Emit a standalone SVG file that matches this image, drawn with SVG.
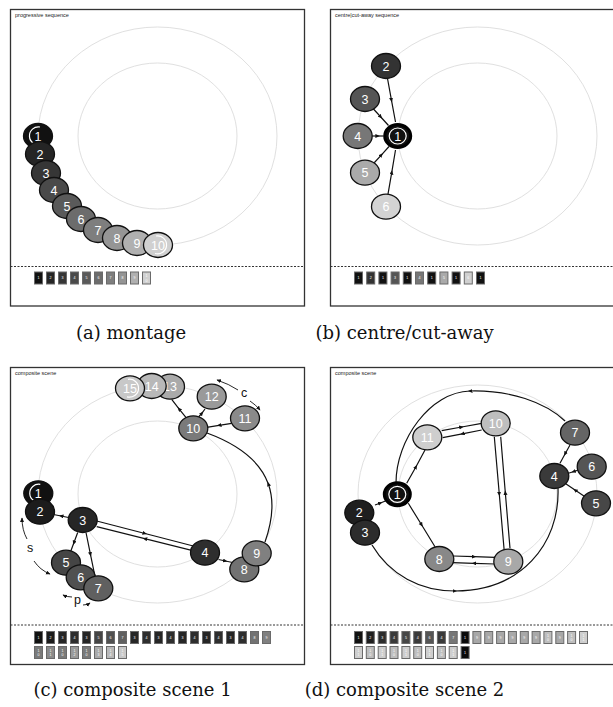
<svg xmlns="http://www.w3.org/2000/svg" width="613" height="707" viewBox="0 0 613 707">
<style>
  .frame{fill:#fff;stroke:#333;stroke-width:1.3}
  .guide{fill:none;stroke:#e0e0e0;stroke-width:1}
  .tl{stroke:#333;stroke-width:1;stroke-dasharray:2 1.5}
  .title{font-family:"Liberation Sans",Arial,sans-serif;font-size:5.5px;fill:#222}
  .node ellipse{stroke:#111;stroke-width:1.3}
  .node text{fill:#fff;font-family:"Liberation Sans",Arial,sans-serif;font-size:12.5px;text-anchor:middle}
  .node ellipse.o{stroke:#000;stroke-width:3}
  .node .ring{fill:none;stroke:#fff;stroke-width:1.2}
  .edge{fill:none;stroke:#111;stroke-width:1.2;marker-mid:url(#mid)}
  .ann{fill:none;stroke:#111;stroke-width:0.9}
  .annt{font-family:"Liberation Sans",Arial,sans-serif;font-size:12.5px;fill:#111;text-anchor:middle}
  .slot rect{stroke:#6a6a6a;stroke-width:1}
  .slot text{fill:#fff;font-family:"Liberation Sans",Arial,sans-serif;font-size:3.6px;text-anchor:middle}
  .cap{font-family:"DejaVu Serif",serif;font-size:18px;fill:#111;text-anchor:middle}
</style>
<defs>
  <marker id="mid" markerUnits="userSpaceOnUse" markerWidth="5" markerHeight="5" refX="2.5" refY="2" orient="auto">
    <path d="M0,0 L4.5,2 L0,4 z" fill="#111"/>
  </marker>
  <marker id="tip" markerUnits="userSpaceOnUse" markerWidth="5" markerHeight="5" refX="4" refY="2" orient="auto-start-reverse">
    <path d="M0,0 L4.5,2 L0,4 z" fill="#111"/>
  </marker>
</defs>

<!-- ============ (a) montage ============ -->
<g id="panel-a">
  <rect class="frame" x="10.5" y="9.5" width="294" height="296.5"/>
  <text class="title" x="15" y="17">progressive sequence</text>
  <ellipse class="guide" cx="157.5" cy="136" rx="119.5" ry="109"/>
  <ellipse class="guide" cx="157.5" cy="136" rx="79.5" ry="73"/>
  <line class="tl" x1="10.5" y1="266.5" x2="304.5" y2="266.5"/>
  <g class="slot">
    <rect x="34.5" y="272" width="8" height="12" fill="#111"/><text x="38.5" y="279.3">1</text>
    <rect x="46.5" y="272" width="8" height="12" fill="#252525"/><text x="50.5" y="279.3">2</text>
    <rect x="58.5" y="272" width="8" height="12" fill="#363636"/><text x="62.5" y="279.3">3</text>
    <rect x="70.5" y="272" width="8" height="12" fill="#4a4a4a"/><text x="74.5" y="279.3">4</text>
    <rect x="82.5" y="272" width="8" height="12" fill="#5a5a5a"/><text x="86.5" y="279.3">5</text>
    <rect x="94.5" y="272" width="8" height="12" fill="#6c6c6c"/><text x="98.5" y="279.3">6</text>
    <rect x="106.5" y="272" width="8" height="12" fill="#7e7e7e"/><text x="110.5" y="279.3">7</text>
    <rect x="118.5" y="272" width="8" height="12" fill="#959595"/><text x="122.5" y="279.3">8</text>
    <rect x="130.5" y="272" width="8" height="12" fill="#b0b0b0"/><text x="134.5" y="279.3">9</text>
    <rect x="142.5" y="272" width="8" height="12" fill="#d0d0d0"/><text x="146.5" y="277.3">1</text><text x="146.5" y="281.5">0</text>
  </g>
  <g id="a-n1" class="node"><ellipse cx="38" cy="136" rx="14.5" ry="12.5" fill="#111"/><path class="ring" d="M40,127 A9 9 0 1 0 41,144.5"/><text x="38" y="140.5">1</text></g>
  <g id="a-n2" class="node"><ellipse cx="40" cy="154" rx="14.5" ry="12.5" fill="#252525"/><text x="40" y="158.5">2</text></g>
  <g id="a-n3" class="node"><ellipse cx="46" cy="173" rx="14.5" ry="12.5" fill="#363636"/><text x="46" y="177.5">3</text></g>
  <g id="a-n4" class="node"><ellipse cx="54" cy="190" rx="14.5" ry="12.5" fill="#4a4a4a"/><text x="54" y="194.5">4</text></g>
  <g id="a-n5" class="node"><ellipse cx="67" cy="206" rx="14.5" ry="12.5" fill="#5a5a5a"/><text x="67" y="210.5">5</text></g>
  <g id="a-n6" class="node"><ellipse cx="81" cy="219" rx="14.5" ry="12.5" fill="#6c6c6c"/><text x="81" y="223.5">6</text></g>
  <g id="a-n7" class="node"><ellipse cx="98" cy="230" rx="14.5" ry="12.5" fill="#7e7e7e"/><text x="98" y="234.5">7</text></g>
  <g id="a-n8" class="node"><ellipse cx="117" cy="238" rx="14.5" ry="12.5" fill="#959595"/><text x="117" y="242.5">8</text></g>
  <g id="a-n9" class="node"><ellipse cx="137" cy="243" rx="14.5" ry="12.5" fill="#b0b0b0"/><text x="137" y="247.5">9</text></g>
  <g id="a-n10" class="node"><ellipse cx="158" cy="245" rx="14.5" ry="12.5" fill="#d0d0d0"/><path class="ring" d="M156,236 A9 9 0 1 1 155,253.5"/><text x="158" y="249.5">10</text></g>
</g>

<!-- ============ (b) centre/cut-away ============ -->
<g id="panel-b">
  <rect class="frame" x="330.5" y="9.5" width="300" height="296.5"/>
  <text class="title" x="335" y="17">centre|cut-away sequence</text>
  <ellipse class="guide" cx="477.5" cy="136" rx="119.5" ry="109"/>
  <ellipse class="guide" cx="477.5" cy="136" rx="79.5" ry="73"/>
  <line class="tl" x1="330.5" y1="266.5" x2="613" y2="266.5"/>
  <g class="slot">
    <rect x="354.5" y="272" width="8" height="12" fill="#111"/><text x="358.5" y="279.3">1</text>
    <rect x="366.7" y="272" width="8" height="12" fill="#333"/><text x="370.7" y="279.3">2</text>
    <rect x="378.9" y="272" width="8" height="12" fill="#111"/><text x="382.9" y="279.3">1</text>
    <rect x="391.1" y="272" width="8" height="12" fill="#555"/><text x="395.1" y="279.3">3</text>
    <rect x="403.3" y="272" width="8" height="12" fill="#111"/><text x="407.3" y="279.3">1</text>
    <rect x="415.5" y="272" width="8" height="12" fill="#777"/><text x="419.5" y="279.3">4</text>
    <rect x="427.7" y="272" width="8" height="12" fill="#111"/><text x="431.7" y="279.3">1</text>
    <rect x="439.9" y="272" width="8" height="12" fill="#aaa"/><text x="443.9" y="279.3">5</text>
    <rect x="452.1" y="272" width="8" height="12" fill="#111"/><text x="456.1" y="279.3">1</text>
    <rect x="464.3" y="272" width="8" height="12" fill="#d0d0d0"/><text x="468.3" y="279.3">6</text>
    <rect x="476.5" y="272" width="8" height="12" fill="#111"/><text x="480.5" y="279.3">1</text>
  </g>
  <g id="b-edges">
    <polyline class="edge" points="387.5,78.5 391.5,100.3 395.5,122"/>
    <polyline class="edge" points="373,108.5 380.8,117 388.5,125.5"/>
    <polyline class="edge" points="372.2,136 377.9,136 383.5,136"/>
    <polyline class="edge" points="374,163 381.5,154.8 389,146.5"/>
    <polyline class="edge" points="388,194.2 391.8,172.1 395.5,150"/>
  </g>
  <g id="b-n2" class="node"><ellipse cx="386" cy="66" rx="14.5" ry="12.5" fill="#333"/><text x="386" y="70.5">2</text></g>
  <g id="b-n3" class="node"><ellipse cx="365" cy="99" rx="14.5" ry="12.5" fill="#555"/><text x="365" y="103.5">3</text></g>
  <g id="b-n4" class="node"><ellipse cx="357.7" cy="136" rx="14.5" ry="12.5" fill="#777"/><text x="357.7" y="140.5">4</text></g>
  <g id="b-n5" class="node"><ellipse cx="365" cy="172.7" rx="14.5" ry="12.5" fill="#aaa"/><text x="365" y="177.2">5</text></g>
  <g id="b-n6" class="node"><ellipse cx="386" cy="206.7" rx="14.5" ry="12.5" fill="#d3d3d3"/><text x="386" y="211.2">6</text></g>
  <g id="b-n1" class="node"><ellipse class="o" cx="397.7" cy="136" rx="13" ry="11.5" fill="#111"/><ellipse class="ring" cx="397.7" cy="136" rx="8.5" ry="8"/><text x="397.7" y="140.5">1</text></g>
</g>

<!-- ============ (c) composite scene 1 ============ -->
<g id="panel-c">
  <rect class="frame" x="10.5" y="367.5" width="294" height="297"/>
  <text class="title" x="15" y="375">composite scene</text>
  <ellipse class="guide" cx="157.5" cy="494" rx="119.5" ry="109"/>
  <ellipse class="guide" cx="157.5" cy="494" rx="79.5" ry="73"/>
  <line class="tl" x1="10.5" y1="625" x2="304.5" y2="625"/>
  <g class="slot">
    <rect x="34.5" y="631.5" width="8" height="12" fill="#111"/><text x="38.5" y="638.8">1</text>
    <rect x="46.5" y="631.5" width="8" height="12" fill="#1c1c1c"/><text x="50.5" y="638.8">2</text>
    <rect x="58.5" y="631.5" width="8" height="12" fill="#262626"/><text x="62.5" y="638.8">3</text>
    <rect x="70.5" y="631.5" width="8" height="12" fill="#2e2e2e"/><text x="74.5" y="638.8">4</text>
    <rect x="82.5" y="631.5" width="8" height="12" fill="#262626"/><text x="86.5" y="638.8">3</text>
    <rect x="94.5" y="631.5" width="8" height="12" fill="#454545"/><text x="98.5" y="638.8">5</text>
    <rect x="106.5" y="631.5" width="8" height="12" fill="#505050"/><text x="110.5" y="638.8">6</text>
    <rect x="118.5" y="631.5" width="8" height="12" fill="#606060"/><text x="122.5" y="638.8">7</text>
    <rect x="130.5" y="631.5" width="8" height="12" fill="#262626"/><text x="134.5" y="638.8">3</text>
    <rect x="142.5" y="631.5" width="8" height="12" fill="#2e2e2e"/><text x="146.5" y="638.8">4</text>
    <rect x="154.5" y="631.5" width="8" height="12" fill="#262626"/><text x="158.5" y="638.8">3</text>
    <rect x="166.5" y="631.5" width="8" height="12" fill="#2e2e2e"/><text x="170.5" y="638.8">4</text>
    <rect x="178.5" y="631.5" width="8" height="12" fill="#262626"/><text x="182.5" y="638.8">3</text>
    <rect x="190.5" y="631.5" width="8" height="12" fill="#2e2e2e"/><text x="194.5" y="638.8">4</text>
    <rect x="202.5" y="631.5" width="8" height="12" fill="#262626"/><text x="206.5" y="638.8">3</text>
    <rect x="214.5" y="631.5" width="8" height="12" fill="#2e2e2e"/><text x="218.5" y="638.8">4</text>
    <rect x="226.5" y="631.5" width="8" height="12" fill="#262626"/><text x="230.5" y="638.8">3</text>
    <rect x="238.5" y="631.5" width="8" height="12" fill="#2e2e2e"/><text x="242.5" y="638.8">4</text>
    <rect x="250.5" y="631.5" width="8" height="12" fill="#727272"/><text x="254.5" y="638.8">8</text>
    <rect x="262.5" y="631.5" width="8" height="12" fill="#808080"/><text x="266.5" y="638.8">9</text>
    <rect x="34.5" y="646.5" width="8" height="12" fill="#7a7a7a"/><text x="38.5" y="651.8">1</text><text x="38.5" y="656">0</text>
    <rect x="46.5" y="646.5" width="8" height="12" fill="#8a8a8a"/><text x="50.5" y="651.8">1</text><text x="50.5" y="656">1</text>
    <rect x="58.5" y="646.5" width="8" height="12" fill="#7a7a7a"/><text x="62.5" y="651.8">1</text><text x="62.5" y="656">0</text>
    <rect x="70.5" y="646.5" width="8" height="12" fill="#9a9a9a"/><text x="74.5" y="651.8">1</text><text x="74.5" y="656">2</text>
    <rect x="82.5" y="646.5" width="8" height="12" fill="#7a7a7a"/><text x="86.5" y="651.8">1</text><text x="86.5" y="656">0</text>
    <rect x="94.5" y="646.5" width="8" height="12" fill="#aaaaaa"/><text x="98.5" y="651.8">1</text><text x="98.5" y="656">3</text>
    <rect x="106.5" y="646.5" width="8" height="12" fill="#b8b8b8"/><text x="110.5" y="651.8">1</text><text x="110.5" y="656">4</text>
    <rect x="118.5" y="646.5" width="8" height="12" fill="#c8c8c8"/><text x="122.5" y="651.8">1</text><text x="122.5" y="656">5</text>
  </g>
  <g id="c-edges">
    <polyline class="edge" points="68.5,517.5 61,516 53.5,514.5"/>
    <polyline class="edge" points="96.7,521 145,533.5 193.3,546"/>
    <polyline class="edge" points="192.7,550.7 144.7,538.7 96.7,526.7"/>
    <polyline class="edge" points="77.7,532.5 73.8,543 70,553.3"/>
    <polyline class="edge" points="86,532.5 90.5,554.6 95,576.5"/>
    <polyline class="edge" points="218.5,559.5 225.5,561 232.5,562.5"/>
    <polyline class="edge" points="186.7,418.3 179,408.8 171.7,399.3"/>
    <polyline class="edge" points="199,416.5 202,413 205,409"/>
    <polyline class="edge" points="231.7,423.3 219,425.3 206.7,427.3"/>
    <path class="edge" d="M265,542 C271.5,523.5 275.25,503 268.25,483.75 C261.25,464.5 243.5,446.5 207,433"/>
  </g>
  <g id="c-notes">
    <path class="ann" d="M22,518 Q22,530 27,539" marker-start="url(#tip)"/>
    <path class="ann" d="M34,561 Q40,570 50,574" marker-end="url(#tip)"/>
    <text class="annt" x="30" y="552">s</text>
    <path class="ann" d="M63,595 Q67,597 72,597" marker-start="url(#tip)"/>
    <path class="ann" d="M83,605 Q87,605 90,603" marker-end="url(#tip)"/>
    <text class="annt" x="77.5" y="603.5">p</text>
    <path class="ann" d="M217,380 Q229,384 238,390" marker-start="url(#tip)"/>
    <path class="ann" d="M250,401 Q256,405 260,410" marker-end="url(#tip)"/>
    <text class="annt" x="244" y="397">c</text>
  </g>
  <g id="c-n1" class="node"><ellipse cx="38.3" cy="493.3" rx="14.5" ry="12.5" fill="#111"/><path class="ring" d="M40.3,484.3 A9 9 0 1 0 41.3,501.8"/><text x="38.3" y="497.8">1</text></g>
  <g id="c-n2" class="node"><ellipse cx="40" cy="511.7" rx="14.5" ry="12.5" fill="#1c1c1c"/><text x="40" y="516.2">2</text></g>
  <g id="c-n3" class="node"><ellipse cx="82.7" cy="520" rx="14.5" ry="12.5" fill="#262626"/><text x="82.7" y="524.5">3</text></g>
  <g id="c-n4" class="node"><ellipse cx="205" cy="552.7" rx="14.5" ry="12.5" fill="#2e2e2e"/><text x="205" y="557.2">4</text></g>
  <g id="c-n5" class="node"><ellipse cx="66" cy="562.7" rx="14.5" ry="12.5" fill="#454545"/><text x="66" y="567.2">5</text></g>
  <g id="c-n6" class="node"><ellipse cx="80.7" cy="577.3" rx="14.5" ry="12.5" fill="#505050"/><text x="80.7" y="581.8">6</text></g>
  <g id="c-n7" class="node"><ellipse cx="98.3" cy="588.3" rx="14.5" ry="12.5" fill="#606060"/><text x="98.3" y="592.8">7</text></g>
  <g id="c-n8" class="node"><ellipse cx="244.3" cy="569.3" rx="14.5" ry="12.5" fill="#727272"/><text x="244.3" y="573.8">8</text></g>
  <g id="c-n9" class="node"><ellipse cx="256.7" cy="553.3" rx="14.5" ry="12.5" fill="#808080"/><text x="256.7" y="557.8">9</text></g>
  <g id="c-n10" class="node"><ellipse cx="193.3" cy="428.3" rx="14.5" ry="12.5" fill="#7a7a7a"/><text x="193.3" y="432.8">10</text></g>
  <g id="c-n11" class="node"><ellipse cx="245" cy="418.3" rx="14.5" ry="12.5" fill="#8a8a8a"/><text x="245" y="422.8">11</text></g>
  <g id="c-n12" class="node"><ellipse cx="211.7" cy="396.7" rx="14.5" ry="12.5" fill="#9a9a9a"/><text x="211.7" y="401.2">12</text></g>
  <g id="c-n13" class="node"><ellipse cx="170" cy="386.7" rx="14.5" ry="12.5" fill="#aaaaaa"/><text x="170" y="391.2">13</text></g>
  <g id="c-n14" class="node"><ellipse cx="151.7" cy="386" rx="14.5" ry="12.5" fill="#b8b8b8"/><text x="151.7" y="390.5">14</text></g>
  <g id="c-n15" class="node"><ellipse cx="130" cy="388.3" rx="14.5" ry="12.5" fill="#c8c8c8"/><path class="ring" d="M128,379.3 A9 9 0 1 1 127,396.8"/><text x="130" y="392.8">15</text></g>
</g>

<!-- ============ (d) composite scene 2 ============ -->
<g id="panel-d">
  <rect class="frame" x="330.5" y="367.5" width="300" height="297"/>
  <text class="title" x="335" y="375">composite scene</text>
  <ellipse class="guide" cx="477.5" cy="494" rx="119.5" ry="109"/>
  <ellipse class="guide" cx="477.5" cy="494" rx="79.5" ry="73"/>
  <line class="tl" x1="330.5" y1="625" x2="613" y2="625"/>
  <g class="slot">
    <rect x="354.5" y="631.5" width="8" height="12" fill="#111"/><text x="358.5" y="638.8">1</text>
    <rect x="366.3" y="631.5" width="8" height="12" fill="#1f1f1f"/><text x="370.3" y="638.8">2</text>
    <rect x="378.2" y="631.5" width="8" height="12" fill="#2c2c2c"/><text x="382.2" y="638.8">3</text>
    <rect x="390" y="631.5" width="8" height="12" fill="#3a3a3a"/><text x="394" y="638.8">4</text>
    <rect x="401.9" y="631.5" width="8" height="12" fill="#474747"/><text x="405.9" y="638.8">5</text>
    <rect x="413.7" y="631.5" width="8" height="12" fill="#3a3a3a"/><text x="417.7" y="638.8">4</text>
    <rect x="425.5" y="631.5" width="8" height="12" fill="#555"/><text x="429.5" y="638.8">6</text>
    <rect x="437.4" y="631.5" width="8" height="12" fill="#3a3a3a"/><text x="441.4" y="638.8">4</text>
    <rect x="449.2" y="631.5" width="8" height="12" fill="#777"/><text x="453.2" y="638.8">7</text>
    <rect x="461.1" y="631.5" width="8" height="12" fill="#0a0a0a"/><text x="465.1" y="638.8">1</text>
    <rect x="472.9" y="631.5" width="8" height="12" fill="#a8a8a8"/><text x="476.9" y="638.8">9</text>
    <rect x="484.7" y="631.5" width="8" height="12" fill="#a8a8a8"/><text x="488.7" y="638.8">9</text>
    <rect x="496.6" y="631.5" width="8" height="12" fill="#a8a8a8"/><text x="500.6" y="638.8">9</text>
    <rect x="508.4" y="631.5" width="8" height="12" fill="#a8a8a8"/><text x="512.4" y="638.8">9</text>
    <rect x="520.3" y="631.5" width="8" height="12" fill="#a8a8a8"/><text x="524.3" y="638.8">9</text>
    <rect x="532.1" y="631.5" width="8" height="12" fill="#a8a8a8"/><text x="536.1" y="638.8">9</text>
    <rect x="543.9" y="631.5" width="8" height="12" fill="#bebebe"/><text x="547.9" y="636.8">1</text><text x="547.9" y="641">0</text>
    <rect x="555.8" y="631.5" width="8" height="12" fill="#a8a8a8"/><text x="559.8" y="638.8">9</text>
    <rect x="567.6" y="631.5" width="8" height="12" fill="#bebebe"/><text x="571.6" y="636.8">1</text><text x="571.6" y="641">0</text>
    <rect x="579.5" y="631.5" width="8" height="12" fill="#cecece"/><text x="583.5" y="636.8">1</text><text x="583.5" y="641">1</text>
    <rect x="354.5" y="646.5" width="8" height="12" fill="#cecece"/><text x="358.5" y="651.8">1</text><text x="358.5" y="656">1</text>
    <rect x="366.3" y="646.5" width="8" height="12" fill="#bebebe"/><text x="370.3" y="651.8">1</text><text x="370.3" y="656">0</text>
    <rect x="378.2" y="646.5" width="8" height="12" fill="#cecece"/><text x="382.2" y="651.8">1</text><text x="382.2" y="656">1</text>
    <rect x="390" y="646.5" width="8" height="12" fill="#bebebe"/><text x="394" y="651.8">1</text><text x="394" y="656">0</text>
    <rect x="401.9" y="646.5" width="8" height="12" fill="#cecece"/><text x="405.9" y="651.8">1</text><text x="405.9" y="656">1</text>
    <rect x="413.7" y="646.5" width="8" height="12" fill="#bebebe"/><text x="417.7" y="651.8">1</text><text x="417.7" y="656">0</text>
    <rect x="425.5" y="646.5" width="8" height="12" fill="#cecece"/><text x="429.5" y="651.8">1</text><text x="429.5" y="656">1</text>
    <rect x="437.4" y="646.5" width="8" height="12" fill="#bebebe"/><text x="441.4" y="651.8">1</text><text x="441.4" y="656">0</text>
    <rect x="449.2" y="646.5" width="8" height="12" fill="#cecece"/><text x="453.2" y="651.8">1</text><text x="453.2" y="656">1</text>
    <rect x="461.1" y="646.5" width="8" height="12" fill="#0a0a0a"/><text x="465.1" y="653.8">1</text>
  </g>
  <g id="d-edges">
    <polyline class="edge" points="375,505 380.5,503 386,500.7"/>
    <polyline class="edge" points="406.7,483.3 416,466.7 425,450"/>
    <polyline class="edge" points="441.7,430.7 461.7,427 481.7,423.3"/>
    <polyline class="edge" points="481.7,430 462.2,433.8 442.7,437.7"/>
    <polyline class="edge" points="494.3,436.7 499.3,494.2 504.3,551.7"/>
    <polyline class="edge" points="510,548.3 505.3,492.5 500.7,436.7"/>
    <polyline class="edge" points="408.3,503.3 421.7,525 435,546.7"/>
    <polyline class="edge" points="453.3,556 474.2,556.7 495,557.3"/>
    <polyline class="edge" points="495,564 473.8,563.3 452.7,562.7"/>
    <polyline class="edge" points="570,445 565,454 560,463.3"/>
    <polyline class="edge" points="578.3,470 573.3,471.7 568.3,473.3"/>
    <polyline class="edge" points="585,496.7 575,490 565,483.3"/>
    <path class="edge" d="M565,421 C545,402 510,390 470,391 C430,392 396,440 396,483"/>
    <path class="edge" d="M372,545 C390,575 420,591 455,591 C520,591 560,545 558,488"/>
  </g>
  <g id="d-n2" class="node"><ellipse cx="359.3" cy="512.7" rx="14.5" ry="12.5" fill="#1f1f1f"/><text x="359.3" y="517.2">2</text></g>
  <g id="d-n3" class="node"><ellipse cx="365" cy="532.7" rx="14.5" ry="12.5" fill="#2c2c2c"/><text x="365" y="537.2">3</text></g>
  <g id="d-n4" class="node"><ellipse cx="554.3" cy="476" rx="14.5" ry="12.5" fill="#3a3a3a"/><text x="554.3" y="480.5">4</text></g>
  <g id="d-n5" class="node"><ellipse cx="596" cy="503.3" rx="14.5" ry="12.5" fill="#474747"/><text x="596" y="507.8">5</text></g>
  <g id="d-n6" class="node"><ellipse cx="591.7" cy="466.7" rx="14.5" ry="12.5" fill="#555"/><text x="591.7" y="471.2">6</text></g>
  <g id="d-n7" class="node"><ellipse cx="575" cy="432.7" rx="14.5" ry="12.5" fill="#656565"/><text x="575" y="437.2">7</text></g>
  <g id="d-n8" class="node"><ellipse cx="439.3" cy="559" rx="14.5" ry="12.5" fill="#888"/><text x="439.3" y="563.5">8</text></g>
  <g id="d-n9" class="node"><ellipse cx="508.3" cy="561.7" rx="14.5" ry="12.5" fill="#a8a8a8"/><text x="508.3" y="566.2">9</text></g>
  <g id="d-n10" class="node"><ellipse cx="495.7" cy="423.3" rx="14.5" ry="12.5" fill="#bebebe"/><text x="495.7" y="427.8">10</text></g>
  <g id="d-n11" class="node"><ellipse cx="427.3" cy="437.3" rx="14.5" ry="12.5" fill="#cecece"/><text x="427.3" y="441.8">11</text></g>
  <g id="d-n1" class="node"><ellipse class="o" cx="397.3" cy="494.3" rx="13" ry="11.5" fill="#111"/><ellipse class="ring" cx="397.3" cy="494.3" rx="8.5" ry="8"/><text x="397.3" y="498.8">1</text></g>
</g>

<!-- sub-figure captions -->
<g id="captions">
  <text class="cap" x="131" y="338.5">(a) montage</text>
  <text class="cap" x="404.5" y="338.5">(b) centre/cut-away</text>
  <text class="cap" x="132.5" y="695.5">(c) composite scene 1</text>
  <text class="cap" x="404.5" y="695.5">(d) composite scene 2</text>
</g>
</svg>
